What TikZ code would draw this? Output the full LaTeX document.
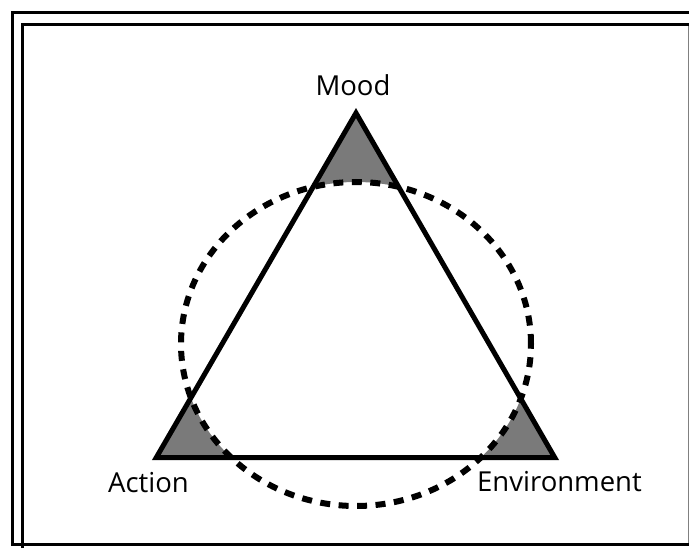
\documentclass[tikz,border=0pt]{standalone}
\usepackage{fontspec}
\setmainfont{Open Sans}
\usepackage{tikz}
\usetikzlibrary{positioning,calc}
\tikzset{
    frame/.style={
        draw,
        line width=3pt,
        line cap=rect
    },
    side/.style={
        draw,
        line width=5pt,
        line join=miter
    },
    ring/.style={
        draw,
        line width=6pt,
        dash pattern=on 10pt off 8.5pt
    },
    corner/.style={
        fill=black!52
    },
    label/.style={
        inner sep=0pt,
        anchor=base,
        font=\fontsize{27.5}{30}\selectfont
    }
}

\begin{document}
\begin{tikzpicture}[x=1pt, y=-1pt]
        \useasboundingbox (0,0) rectangle (689,548);
        % Frame
        \draw[frame] (689,12.5) -- (12.5,12.5) -- (12.5,544) -- (689,544);
        \draw[frame, line cap=butt] (22.5,548) -- (22.5,25) -- (689,25);
        \draw[gray, line width=1pt] (688,26.5) -- (688,542.5);

        % Corners
        \coordinate (mood) at (356,113);
        \coordinate (action) at (156.3,457.5);
        \coordinate (env) at (554.7,457.5);
        \coordinate (mid) at (356,344);

        % Shaded tips
        \begin{scope}
            \clip (mood) -- (action) -- (env) -- cycle;
            \fill[corner, even odd rule] (mood) -- (action) -- (env) -- cycle
                (mid) ellipse [x radius=175pt, y radius=162pt];
        \end{scope}

        % Circle
        \draw[ring] (mid) ellipse [x radius=175pt, y radius=162pt];

        % Triangle
        \draw[side] (mood) -- (action) -- (env) -- cycle;

        % Labels
        \node (moodlbl) [label] at (353,96) {Mood};
        \node (actionlbl) [label] at (148.5,492) {Action};
        \node (envlbl) [label] at (559.5,491) {Environment};
    \end{tikzpicture}
\end{document}
